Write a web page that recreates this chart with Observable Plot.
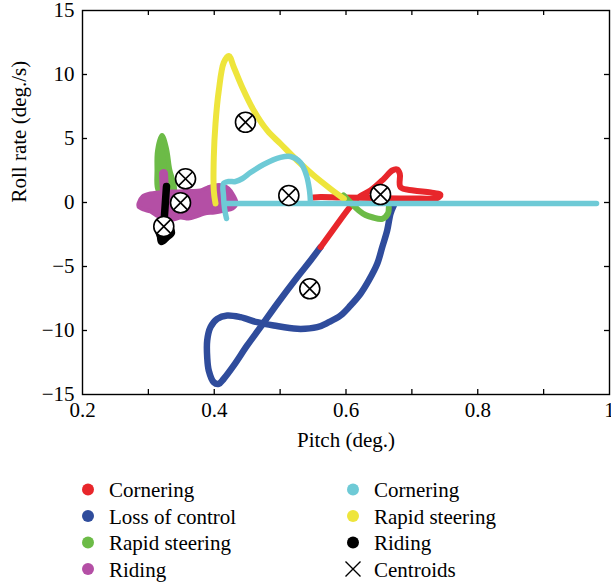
<!DOCTYPE html>
<html><head><meta charset="utf-8">
<script src="https://cdn.jsdelivr.net/npm/d3@7"></script>
<script src="https://cdn.jsdelivr.net/npm/@observablehq/plot@0.6"></script>
<style>
body{margin:0;background:#fff;}
#chart{width:611px;}
#chart svg{display:block;}
</style>
</head><body><div id="chart"></div>
<script>
// ---- ticks ----
const xLabelTicks = [0.2, 0.4, 0.6, 0.8, 1];
const xMinorTicks = [0.3, 0.4, 0.5, 0.6, 0.7, 0.8, 0.9];
const yLabelTicks = [-15, -10, -5, 0, 5, 10, 15];
const yInnerTicks = [-10, -5, 0, 5, 10];

// ---- legend ----
const legendLabels = ["Cornering", "Loss of control", "Rapid steering", "Riding", "Cornering", "Rapid steering", "Riding", "Centroids"];
const legendColors = ["#e8262b", "#2f4c9c", "#6cbb47", "#b44fa5", "#6ecad6", "#eee53c", "#000000", null];

// ---- series (pitch, roll rate) ----
const lossOfControl = [
  [0.6726,-0.23],[0.6676,-0.86],[0.6625,-2.19],[0.655,-3.49],[0.6474,-4.79],[0.6346,-6.09],[0.622,-7.13],
  [0.6068,-8.05],[0.5917,-8.83],[0.5739,-9.35],[0.5563,-9.74],[0.5259,-9.87],[0.4904,-9.61],[0.4652,-9.35],
  [0.4398,-8.96],[0.4197,-8.83],[0.4045,-9.09],[0.3943,-9.74],[0.3893,-10.78],[0.3893,-12.09],[0.3917,-13.13],
  [0.3993,-14.04],[0.4069,-14.16],[0.4145,-13.77],[0.4297,-12.73],[0.45,-11.17],[0.4702,-9.74],[0.4956,-7.91],
  [0.5259,-5.84],[0.5461,-4.53],[0.5613,-3.49]
];
const corneringA = [
  [0.5613,-3.49],[0.5841,-1.875],[0.6068,-0.31],[0.6194,0.41],[0.6372,0.94],[0.6574,1.85],[0.6701,2.5],
  [0.6777,2.58],[0.6817,2.24],[0.6827,1.2],[0.7025,0.94],[0.7283,0.78],[0.7434,0.59],[0.7374,0.31],
  [0.7131,0.31],[0.6827,0.31],[0.6372,0.35],[0.5917,0.39],[0.5613,0.43],[0.5507,0.39]
];
const rapidSteeringABlob = [
  [0.3207,5.23],[0.3139,4.06],[0.3131,2.5],[0.3139,1.09],[0.3214,0.47],[0.3336,0.625],[0.3397,0.94],[0.3321,2.66],[0.3275,4.22]
];
const rapidSteeringATail = [
  [0.5962,0.55],[0.6068,0],[0.6194,-0.625],[0.6296,-0.98],[0.6398,-1.15],[0.655,-1.27],[0.6635,-0.88],[0.665,-0.39]
];
const ridingABlob = [
  [0.285,-0.08],[0.2911,0.47],[0.3032,0.70],[0.3154,0.78],[0.3306,0.86],[0.3457,0.86],[0.364,0.90],[0.3791,0.94],
  [0.3898,1.17],[0.4004,1.33],[0.4125,1.33],[0.4216,1.09],[0.4292,0.55],[0.4338,-0.08],[0.4277,-0.47],[0.4156,-0.625],
  [0.4004,-0.78],[0.3852,-0.86],[0.3731,-1.09],[0.3609,-1.25],[0.3488,-1.17],[0.3366,-1.33],[0.3245,-1.25],
  [0.3123,-1.02],[0.3032,-0.70],[0.2926,-0.55],[0.285,-0.31]
];
const ridingABump = [[0.323,2.27],[0.3245,0.78]];
const corneringBHump = [
  [0.4186,-1.25],[0.4156,-0.47],[0.414,0.55],[0.414,1.48],[0.4216,1.64],[0.4323,1.64],[0.4429,1.875],[0.455,2.34],
  [0.4748,2.97],[0.5006,3.52],[0.5157,3.59],[0.5309,3.125],[0.54,2.11],[0.5446,0.94],[0.5461,0]
];
const corneringBLine = [[0.4171,-0.08],[0.9803,-0.08]];
const rapidSteeringB = [
  [0.4019,-0.08],[0.3993,0.94],[0.3993,3.52],[0.4019,6.17],[0.4069,8.75],[0.4145,10.94],[0.4221,11.45],
  [0.4297,10.57],[0.4424,9.01],[0.46,7.19],[0.4804,5.63],[0.5006,4.59],[0.5259,3.28],[0.5511,2.11],[0.5765,1.07],[0.5967,0.29]
];
const ridingB = [
  [0.3275,1.25],[0.326,0.156],[0.3245,-0.94],[0.323,-1.72],[0.3154,-2.03],[0.3184,-2.66],[0.3199,-3.05],
  [0.3275,-2.73],[0.3351,-2.34],[0.3306,-1.95],[0.3245,-2.19]
];
const centroids = [[0.4474,6.27],[0.3564,1.85],[0.3488,-0.02],[0.3234,-1.875],[0.5132,0.55],[0.6524,0.625],[0.545,-6.74]];

const [RED, BLUE, GREEN, PURPLE, CYAN, YELLOW, BLACK] = legendColors;
const px = d => d[0], py = d => d[1];
const fmtY = d => d < 0 ? "\u2212" + (-d) : String(d);
const lineOpts = (stroke, w, curve = "catmull-rom") => ({x: px, y: py, stroke, strokeWidth: w, strokeLinecap: "round", strokeLinejoin: "round", curve});

const plot = Plot.plot({
  width: 611, height: 460,
  marginLeft: 82, marginRight: 2, marginTop: 10, marginBottom: 66,
  style: {fontFamily: "'Liberation Serif', 'DejaVu Serif', serif", fontSize: "21px", background: "white", color: "black", overflow: "visible"},
  x: {domain: [0.2, 1], ticks: xLabelTicks, tickSize: 0, tickPadding: 8, tickFormat: d => String(d), label: null},
  y: {domain: [-15, 15], ticks: yLabelTicks, tickSize: 0, tickPadding: 8, tickFormat: fmtY, label: null},
  marks: [
    Plot.line(lossOfControl, lineOpts(BLUE, 6.5)),
    Plot.line(corneringA, lineOpts(RED, 6)),
    Plot.line(rapidSteeringATail, lineOpts(GREEN, 6)),
    Plot.line(rapidSteeringABlob, {...lineOpts(GREEN, 5, "catmull-rom-closed"), fill: GREEN}),
    Plot.line(ridingABlob, {...lineOpts(PURPLE, 4, "catmull-rom-closed"), fill: PURPLE}),
    Plot.line(ridingABump, lineOpts(PURPLE, 9, "linear")),
    Plot.line(rapidSteeringB, lineOpts(YELLOW, 6)),
    Plot.line(corneringBHump, lineOpts(CYAN, 5.5)),
    Plot.line(corneringBLine, lineOpts(CYAN, 5.5, "linear")),
    Plot.line(ridingB, lineOpts(BLACK, 7.5)),
    Plot.dot(centroids, {x: px, y: py, r: 10, fill: "white", stroke: "black", strokeWidth: 1.6}),
    Plot.dot(centroids, {x: px, y: py, r: 6.5, symbol: "times", stroke: "black", strokeWidth: 1.6}),
    Plot.frame({stroke: "black", strokeWidth: 1.4}),
    Plot.ruleX(xMinorTicks, {x: d => d, insetTop: 379, stroke: "black", strokeWidth: 1.3}),
    Plot.ruleX(xMinorTicks, {x: d => d, insetBottom: 379, stroke: "black", strokeWidth: 1.3}),
    Plot.ruleY(yInnerTicks, {y: d => d, insetRight: 522, stroke: "black", strokeWidth: 1.3}),
    Plot.ruleY(yInnerTicks, {y: d => d, insetLeft: 522, stroke: "black", strokeWidth: 1.3}),
    Plot.text(["Pitch (deg.)"], {frameAnchor: "bottom", dy: 52, lineAnchor: "bottom", text: d => d, fontSize: 21}),
    Plot.text(["Roll rate (deg./s)"], {frameAnchor: "left", dx: -57, rotate: -90, lineAnchor: "bottom", text: d => d, fontSize: 21})
  ]
});
document.getElementById("chart").appendChild(plot);

// ---- legend below ----
const leg = d3.create("svg").attr("width", 611).attr("height", 126)
  .style("font-family", "'Liberation Serif', 'DejaVu Serif', serif").style("font-size", "21px");
const colX = [88, 353], textX = [109, 374];
const baseY = [37, 63.5, 90, 116.5];
legendLabels.forEach((label, i) => {
  const c = Math.floor(i / 4), r = i % 4;
  const cy = baseY[r] - 7.5;
  if (legendColors[i]) {
    leg.append("circle").attr("cx", colX[c]).attr("cy", cy).attr("r", 6).attr("fill", legendColors[i]);
  } else {
    const s = 7.5;
    leg.append("path").attr("d", `M${colX[c]-s},${cy-s}L${colX[c]+s},${cy+s}M${colX[c]-s},${cy+s}L${colX[c]+s},${cy-s}`)
      .attr("stroke", "black").attr("stroke-width", 1.4).attr("fill", "none");
  }
  leg.append("text").attr("x", textX[c]).attr("y", baseY[r]).attr("fill", "black").text(label);
});
document.getElementById("chart").appendChild(leg.node());
</script>
</body></html>
